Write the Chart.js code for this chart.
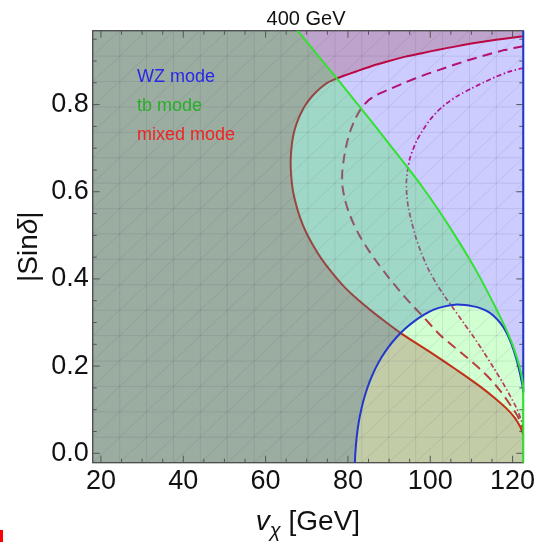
<!DOCTYPE html>
<html>
<head>
<meta charset="utf-8">
<script src="https://cdn.jsdelivr.net/npm/chart.js@4.4.1/dist/chart.umd.min.js"></script>
<style>
  html, body { margin: 0; padding: 0; background: #fff; }
  #wrap { position: relative; width: 543px; height: 542px; }
  #corner { position: absolute; left: 0; top: 530px; width: 3px; height: 12px; background: #ff0000; }
</style>
</head>
<body>
<div id="wrap">
  <canvas id="chart" width="543" height="542"></canvas>
  <div id="corner"></div>
</div>
<script>
// Axis limits and tick values
const X_MIN = 18, X_MAX = 122.6, Y_MIN = -0.0216, Y_MAX = 0.9695;
const xTicks = [20, 40, 60, 80, 100, 120];
const yTicks = [0, 0.2, 0.4, 0.6, 0.8];
const xMinorTicks = [25, 30, 35, 45, 50, 55, 65, 70, 75, 85, 90, 95, 105, 110, 115];
const yMinorTicks = [0.05, 0.1, 0.15, 0.25, 0.3, 0.35, 0.45, 0.5, 0.55, 0.65, 0.7, 0.75, 0.85, 0.9, 0.95];

const chartTitle = '400 GeV';
const modeLabels = ['WZ mode', 'tb mode', 'mixed mode'];

// Mixed-mode boundary (solid), from the upper right end around to the lower right end
const redCurve = [
  [122.6,0.957],[118,0.951],[114,0.946],[110,0.940],[106,0.933],[102,0.926],[98,0.918],
  [94,0.910],[90,0.900],[86,0.889],[82,0.876],[79,0.866],[77.3,0.860],[75,0.850],
  [73.2,0.837],[71.2,0.818],[69.5,0.796],[68.1,0.770],[67.0,0.740],[66.4,0.710],
  [66.1,0.673],[66.2,0.640],[66.6,0.605],[67.3,0.575],[68.3,0.543],[69.7,0.510],
  [71.5,0.478],[73.6,0.446],[76.0,0.416],[78.9,0.384],[82.0,0.356],[85.4,0.329],
  [88.8,0.304],[92.5,0.278],[96,0.256],[100,0.232],[104,0.207],[108,0.181],[112,0.154],
  [115.5,0.128],[118.5,0.103],[120.5,0.082],[121.8,0.062],[122.6,0.043]
];

// Mixed-mode contour (dashed)
const dashedCurve = [
  [122.6,0.934],[118,0.925],[114,0.915],[110,0.904],[106,0.892],[102,0.879],[98,0.866],
  [94,0.851],[90,0.835],[87,0.822],[85,0.810],[83.3,0.792],[81.8,0.768],[80.6,0.740],
  [79.7,0.710],[79.0,0.675],[78.6,0.642],[78.7,0.610],[79.3,0.581],[80.2,0.553],
  [81.4,0.526],[83.0,0.496],[85.0,0.466],[87.4,0.434],[90.0,0.402],[92.6,0.372],
  [95.2,0.344],[98.5,0.311],[102.3,0.272],[105.8,0.244],[109,0.219],[112.1,0.193],
  [115,0.166],[117.5,0.137],[119.8,0.106],[121.3,0.084],[122.3,0.062],[122.6,0.052]
];

// Mixed-mode contour (dot-dashed)
const dashDotCurve = [
  [122.6,0.884],[119,0.875],[116,0.864],[113,0.851],[110,0.837],[107,0.822],[104,0.803],
  [101.8,0.785],[100,0.766],[98.3,0.743],[96.8,0.719],[95.8,0.697],[95.0,0.675],
  [94.5,0.650],[94.2,0.622],[94.3,0.592],[94.7,0.562],[95.5,0.530],[96.5,0.495],
  [97.8,0.460],[99.4,0.425],[101.3,0.392],[103.5,0.360],[105.8,0.330],[108.2,0.298],
  [110.6,0.266],[113,0.232],[115.4,0.196],[117.6,0.162],[119.5,0.130],[121,0.103],
  [122,0.079],[122.6,0.062]
];

// WZ-mode boundary (blue arc) and its continuation along the right edge
const blueArc = [
  [81.65,-0.03],[81.8,0.0],[82.1,0.035],[82.6,0.070],[83.3,0.103],[84.2,0.135],
  [85.3,0.165],[86.6,0.193],[88.1,0.219],[89.8,0.243],[91.7,0.265],[93.8,0.285],
  [96,0.302],[98.5,0.318],[101,0.330],[103.5,0.337],[106,0.341],[108.5,0.340],
  [110.5,0.337],[112.1,0.333],[113.8,0.326],[115.3,0.316],[117,0.299],[118.4,0.279],
  [119.6,0.254],[120.6,0.226],[121.4,0.199],[122.0,0.174],[122.4,0.155],[122.6,0.140]
];
const blueEdge = [[122.6,0.140],[122.6,0.99]];

// tb-mode boundary (green line) and its continuation along the right edge
const greenArc = [
  [67.3,0.975],[72,0.921],[77.3,0.860],[82,0.805],[86,0.758],[90,0.710],[94.3,0.658],
  [98,0.612],[102,0.558],[106,0.500],[109.7,0.443],[112.1,0.403],[115.3,0.345],
  [117.2,0.309],[118.6,0.281],[119.7,0.256],[120.6,0.232],[121.4,0.208],[122.0,0.186],
  [122.4,0.167],[122.6,0.150]
];
const greenEdge = [[122.6,0.150],[122.6,-0.03]];

const pts = arr => arr.map(([x, y]) => ({ x, y }));
const OUTX = 6, OUTY = 0.1;
const last = arr => arr[arr.length - 1];

// Shaded regions built from the boundary curves, closed outside the plot frame
const regionAbove = [...greenArc,
  [X_MAX + OUTX, last(greenArc)[1]], [X_MAX + OUTX, Y_MAX + OUTY], [greenArc[0][0], Y_MAX + OUTY]];
const regionWZ = [...blueArc,
  [X_MAX + OUTX, last(blueArc)[1]], [X_MAX + OUTX, Y_MIN - OUTY], [blueArc[0][0], Y_MIN - OUTY]];
const regionBelow = [[X_MIN - OUTX, Y_MAX + OUTY], [greenArc[0][0], Y_MAX + OUTY], ...greenArc,
  ...blueArc.slice().reverse(), [blueArc[0][0], Y_MIN - OUTY], [X_MIN - OUTX, Y_MIN - OUTY]];
const regionOutsideMixed = [...redCurve,
  [X_MAX + OUTX, Y_MIN - OUTY], [X_MIN - OUTX, Y_MIN - OUTY], [X_MIN - OUTX, Y_MAX + OUTY], [X_MAX + OUTX, Y_MAX + OUTY]];

const FONT = '"Liberation Sans", Arial, sans-serif';

function regionSet(data, color, order) {
  return { data: pts(data), backgroundColor: color, borderWidth: 0, pointRadius: 0,
           fill: 'shape', tension: 0, order: order };
}
function curveSet(data, color, width, dash, order, clip) {
  return { data: pts(data), borderColor: color, borderWidth: width, borderDash: dash,
           pointRadius: 0, fill: false, tension: 0.2, order: order, clip: clip };
}

const datasets = [
  curveSet(redCurve, 'rgb(245,10,30)', 2, [], 30),
  curveSet(dashedCurve, 'rgb(228,20,75)', 2, [10, 6], 30),
  curveSet(dashDotCurve, 'rgb(225,20,115)', 1.7, [5, 2.5, 1.5, 2.5], 30),
  regionSet(regionAbove, 'rgba(0,0,255,0.2)', 20),
  regionSet(regionWZ, 'rgba(0,255,0,0.18)', 20),
  regionSet(regionBelow, 'rgba(44,168,133,0.45)', 20),
  regionSet(regionOutsideMixed, 'rgba(135,0,0,0.2)', 10),
  curveSet([...blueArc, ...blueEdge], 'rgb(35,55,205)', 2, [], 5, { left: 0, top: 0, right: 2, bottom: 0 }),
  curveSet([...greenArc, ...greenEdge], 'rgb(50,225,50)', 2, [], 4, { left: 0, top: 0, right: 2, bottom: 0 })
];
const FRAME_AFTER = 6;

function drawMesh(ctx, a) {
  const nx = 16, ny = 17;
  const dx = a.width / nx, dy = a.height / ny;
  ctx.save();
  ctx.beginPath();
  ctx.rect(a.left, a.top, a.width, a.height);
  ctx.clip();
  ctx.strokeStyle = 'rgba(60,60,90,0.11)';
  ctx.lineWidth = 1;
  ctx.beginPath();
  for (let i = 0; i <= nx; i++) {
    const x = a.left + i * dx;
    ctx.moveTo(x, a.top); ctx.lineTo(x, a.bottom);
  }
  for (let j = 0; j <= ny; j++) {
    const y = a.bottom - j * dy;
    ctx.moveTo(a.left, y); ctx.lineTo(a.right, y);
  }
  for (let i = 0; i < nx; i++) {
    for (let j = 0; j < ny; j++) {
      ctx.moveTo(a.left + i * dx, a.bottom - j * dy);
      ctx.lineTo(a.left + (i + 1) * dx, a.bottom - (j + 1) * dy);
    }
  }
  ctx.stroke();
  ctx.restore();
}

function drawFrame(chart) {
  const { ctx, chartArea: a, scales } = chart;
  ctx.save();
  ctx.strokeStyle = '#4a4a4a';
  ctx.lineWidth = 1.3;
  ctx.strokeRect(a.left, a.top, a.width, a.height);
  ctx.lineWidth = 1;
  ctx.strokeStyle = '#555';
  ctx.beginPath();
  const xt = (vals, len) => vals.forEach(v => {
    const p = scales.x.getPixelForValue(v);
    ctx.moveTo(p, a.bottom); ctx.lineTo(p, a.bottom - len);
    ctx.moveTo(p, a.top); ctx.lineTo(p, a.top + len);
  });
  const yt = (vals, len) => vals.forEach(v => {
    const p = scales.y.getPixelForValue(v);
    ctx.moveTo(a.left, p); ctx.lineTo(a.left + len, p);
    ctx.moveTo(a.right, p); ctx.lineTo(a.right - len, p);
  });
  xt(xTicks, 7); xt(xMinorTicks, 4);
  yt(yTicks, 7); yt(yMinorTicks, 4);
  ctx.stroke();
  ctx.restore();
}

const decorPlugin = {
  id: 'decor',
  beforeDatasetsDraw(chart) {
    const { ctx, chartArea: a } = chart;
    ctx.save();
    ctx.fillStyle = '#ffffff';
    ctx.fillRect(a.left, a.top, a.width, a.height);
    ctx.restore();
  },
  afterDatasetDraw(chart, args) {
    if (args.index === FRAME_AFTER) {
      drawMesh(chart.ctx, chart.chartArea);
      drawFrame(chart);
    }
  },
  afterDatasetsDraw(chart) {
    const ctx = chart.ctx;
    const colors = ['rgb(40,40,230)', 'rgb(40,175,40)', 'rgb(240,35,35)'];
    const baselines = [82, 111, 140];
    ctx.save();
    ctx.font = '18px ' + FONT;
    ctx.textAlign = 'left';
    ctx.textBaseline = 'alphabetic';
    modeLabels.forEach((t, i) => {
      ctx.fillStyle = colors[i];
      ctx.fillText(t, 137, baselines[i]);
    });
    ctx.restore();
  },
  afterDraw(chart) {
    const { ctx, chartArea: a } = chart;
    const cx = (a.left + a.right) / 2;
    ctx.save();
    ctx.fillStyle = '#111';
    ctx.textBaseline = 'alphabetic';
    // title
    ctx.font = '20px ' + FONT;
    ctx.textAlign = 'center';
    ctx.fillText(chartTitle, cx - 2, 25);
    // x-axis title: v_chi [GeV]
    ctx.textAlign = 'left';
    const partsX = [
      { t: 'v', f: 'italic 28px ' + FONT, dy: 0 },
      { t: 'χ', f: 'italic 20px ' + FONT, dy: 7 },
      { t: ' [GeV]', f: '28px ' + FONT, dy: 0 }
    ];
    let w = 0;
    partsX.forEach(p => { ctx.font = p.f; p.w = ctx.measureText(p.t).width; w += p.w; });
    let x = cx - w / 2;
    partsX.forEach(p => { ctx.font = p.f; ctx.fillText(p.t, x, 530 + p.dy); x += p.w; });
    // y-axis title: |Sin delta|
    const partsY = [
      { t: '|Sin', f: '28px ' + FONT },
      { t: 'δ', f: 'italic 28px ' + FONT },
      { t: '|', f: '28px ' + FONT }
    ];
    w = 0;
    partsY.forEach(p => { ctx.font = p.f; p.w = ctx.measureText(p.t).width; w += p.w; });
    ctx.translate(37, (a.top + a.bottom) / 2);
    ctx.rotate(-Math.PI / 2);
    x = -w / 2;
    partsY.forEach(p => { ctx.font = p.f; ctx.fillText(p.t, x, 0); x += p.w; });
    ctx.restore();
  }
};

new Chart(document.getElementById('chart'), {
  type: 'line',
  data: { datasets },
  options: {
    responsive: false,
    animation: false,
    events: [],
    layout: { padding: { top: 30.7, right: 19.7, left: 0, bottom: 0 } },
    plugins: { legend: { display: false }, tooltip: { enabled: false }, title: { display: false } },
    scales: {
      x: {
        type: 'linear', min: X_MIN, max: X_MAX,
        afterBuildTicks: s => { s.ticks = xTicks.map(v => ({ value: v })); },
        afterFit: s => { s.height = 79.3; },
        grid: { display: false, drawTicks: false },
        border: { display: false },
        ticks: { font: { family: FONT, size: 27 }, color: '#111', padding: 3,
                 maxRotation: 0, autoSkip: false, callback: v => String(v) }
      },
      y: {
        type: 'linear', min: Y_MIN, max: Y_MAX,
        afterBuildTicks: s => { s.ticks = yTicks.map(v => ({ value: v })); },
        afterFit: s => { s.width = 92.7; },
        grid: { display: false, drawTicks: false },
        border: { display: false },
        ticks: { font: { family: FONT, size: 27 }, color: '#111', padding: 4,
                 autoSkip: false, callback: v => Number(v).toFixed(1) }
      }
    }
  },
  plugins: [decorPlugin]
});
</script>
</body>
</html>
